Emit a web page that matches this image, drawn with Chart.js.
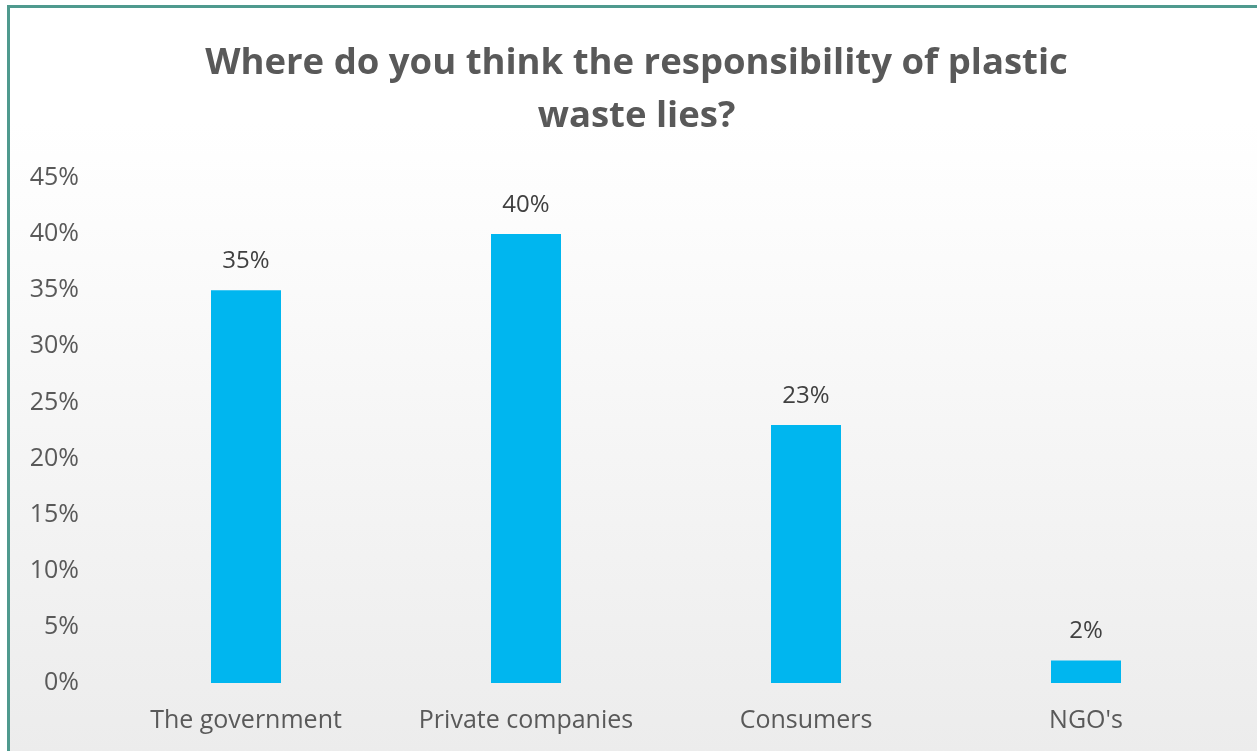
<!DOCTYPE html>
<html>
<head>
<meta charset="utf-8">
<script src="https://cdn.jsdelivr.net/npm/chart.js@4.4.1/dist/chart.umd.min.js"></script>
<style>
  html, body { margin: 0; padding: 0; width: 1257px; height: 751px; overflow: hidden; background: #ffffff; }
  #frame {
    position: absolute; left: 7px; top: 5px; width: 1270px; height: 770px;
    border-left: 3px solid #4f9a8e; border-top: 3px solid #4f9a8e;
    background: linear-gradient(to bottom, #ffffff 0px, #ffffff 115px, #fbfbfb 250px, #ececec 745px);
  }
  #chart { position: absolute; left: 0; top: 0; }
</style>
</head>
<body>
<div id="frame"></div>
<canvas id="chart" width="1257" height="751"></canvas>
<script>
// Survey answers: who carries responsibility for plastic waste
const categories = ["The government", "Private companies", "Consumers", "NGO's"];
const shares = [35, 40, 23, 2];
const yTicks = [0, 5, 10, 15, 20, 25, 30, 35, 40, 45];
const titleLines = ["Where do you think the responsibility of plastic", "waste lies?"];

const FONT = "'Open Sans', 'Noto Sans', sans-serif";

// Two-line heading, centred on the framed panel rather than the plot
const heading = {
  id: 'heading',
  afterDraw(chart) {
    const ctx = chart.ctx;
    ctx.save();
    ctx.font = "bold 36.5px " + FONT;
    ctx.fillStyle = '#595959';
    ctx.textAlign = 'center';
    ctx.textBaseline = 'middle';
    titleLines.forEach((line, i) => ctx.fillText(line, 636.5, 64 + i * 53));
    ctx.restore();
  }
};

// Writes the percentage above each bar
const valueLabels = {
  id: 'valueLabels',
  afterDatasetsDraw(chart) {
    const ctx = chart.ctx;
    const meta = chart.getDatasetMeta(0);
    ctx.save();
    ctx.font = "24px " + FONT;
    ctx.fillStyle = '#404040';
    ctx.textAlign = 'center';
    ctx.textBaseline = 'middle';
    meta.data.forEach((bar, i) => {
      ctx.fillText(chart.data.datasets[0].data[i] + '%', bar.x, bar.y - 29);
    });
    ctx.restore();
  }
};

new Chart(document.getElementById('chart'), {
  type: 'bar',
  data: {
    labels: categories,
    datasets: [{
      data: shares,
      backgroundColor: '#00b6ef',
      borderWidth: 0,
      categoryPercentage: 1.0,
      barPercentage: 0.25
    }]
  },
  options: {
    responsive: false,
    animation: false,
    layout: { padding: { left: 0, right: 31, top: 178, bottom: 0 } },
    plugins: {
      legend: { display: false },
      tooltip: { enabled: false },
      title: { display: false }
    },
    scales: {
      x: {
        grid: { display: false, drawTicks: false },
        border: { display: false },
        ticks: { color: '#595959', font: { family: FONT, size: 25 }, padding: 23 },
        afterFit(scale) { scale.height = 68; }
      },
      y: {
        min: 0, max: 45,
        grid: { display: false, drawTicks: false },
        border: { display: false },
        afterBuildTicks(scale) { scale.ticks = yTicks.map(v => ({ value: v })); },
        ticks: {
          color: '#595959',
          font: { family: FONT, size: 25 },
          padding: 27,
          callback: v => v + '%'
        },
        afterFit(scale) { scale.width = 106; }
      }
    }
  },
  plugins: [valueLabels, heading]
});
</script>
</body>
</html>
